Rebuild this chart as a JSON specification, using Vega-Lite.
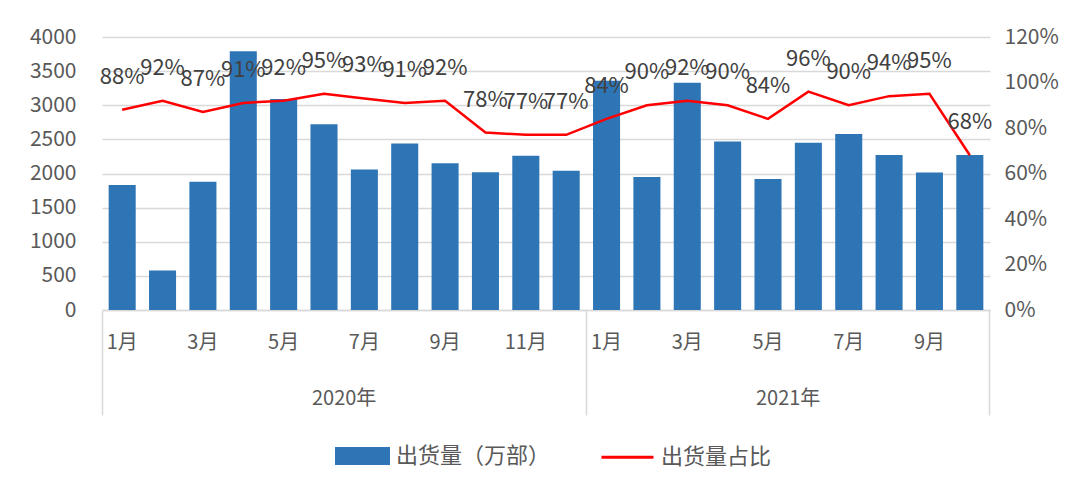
{
  "$schema": "https://vega.github.io/schema/vega-lite/v6.json",
  "width": 888,
  "height": 273,
  "autosize": {"type": "none"},
  "padding": {"left": 102, "top": 37, "right": 95, "bottom": 177},
  "background": "white",
  "config": {
    "font": "Noto Sans CJK SC",
    "view": {"stroke": null},
    "axis": {"labelColor": "#595959", "labelFont": "Noto Sans CJK SC"}
  },
  "data": {
    "values": [
      {"m": "2020-01", "v": 1830, "p": 0.88},
      {"m": "2020-02", "v": 580, "p": 0.92},
      {"m": "2020-03", "v": 1880, "p": 0.87},
      {"m": "2020-04", "v": 3790, "p": 0.91},
      {"m": "2020-05", "v": 3090, "p": 0.92},
      {"m": "2020-06", "v": 2720, "p": 0.95},
      {"m": "2020-07", "v": 2060, "p": 0.93},
      {"m": "2020-08", "v": 2440, "p": 0.91},
      {"m": "2020-09", "v": 2150, "p": 0.92},
      {"m": "2020-10", "v": 2020, "p": 0.78},
      {"m": "2020-11", "v": 2260, "p": 0.77},
      {"m": "2020-12", "v": 2040, "p": 0.77},
      {"m": "2021-01", "v": 3360, "p": 0.84},
      {"m": "2021-02", "v": 1950, "p": 0.90},
      {"m": "2021-03", "v": 3330, "p": 0.92},
      {"m": "2021-04", "v": 2470, "p": 0.90},
      {"m": "2021-05", "v": 1920, "p": 0.84},
      {"m": "2021-06", "v": 2450, "p": 0.96},
      {"m": "2021-07", "v": 2580, "p": 0.90},
      {"m": "2021-08", "v": 2270, "p": 0.94},
      {"m": "2021-09", "v": 2015, "p": 0.95},
      {"m": "2021-10", "v": 2270, "p": 0.68}
    ]
  },
  "layer": [
    {
      "mark": {"type": "bar"},
      "encoding": {
        "x": {
          "field": "m", "type": "ordinal",
          "scale": {"paddingInner": 0.33, "paddingOuter": 0.165},
          "axis": {
            "title": null, "orient": "bottom",
            "values": ["2020-01","2020-03","2020-05","2020-07","2020-09","2020-11","2021-01","2021-03","2021-05","2021-07","2021-09"],
            "labelExpr": "toNumber(slice(datum.value,5)) + '月'",
            "ticks": false, "domain": true, "domainColor": "#D9D9D9", "domainWidth": 1.5,
            "labelAngle": 0, "labelPadding": 22, "labelFontSize": 20, "grid": false
          }
        },
        "y": {
          "field": "v", "type": "quantitative",
          "scale": {"domain": [0, 4000], "nice": false},
          "axis": {
            "title": null, "orient": "left", "format": "d",
            "values": [0,500,1000,1500,2000,2500,3000,3500,4000],
            "grid": true, "gridColor": "#D9D9D9", "gridWidth": 1.5,
            "domain": false, "ticks": false, "labelPadding": 26, "labelFontSize": 21
          }
        },
        "color": {
          "datum": "出货量（万部）",
          "scale": {"domain": ["出货量（万部）", "出货量占比"], "range": ["#2E75B6", "#FF0000"]},
          "legend": {
            "title": null, "orient": "none", "legendX": 233, "legendY": 391,
            "direction": "horizontal", "labelFontSize": 22, "labelColor": "#595959",
            "symbolSize": 2704, "columnPadding": 44, "labelOffset": 6,
            "encode": {
              "symbols": {
                "update": {
                  "shape": {"signal": "datum.value === '出货量占比' ? 'M-1,0H1' : 'M-1,-0.29H1V0.29H-1Z'"},
                  "fill": {"signal": "datum.value === '出货量占比' ? 'transparent' : '#2E75B6'"},
                  "stroke": {"signal": "datum.value === '出货量占比' ? '#FF0000' : 'transparent'"},
                  "strokeWidth": {"value": 3},
                  "opacity": {"value": 1}
                }
              }
            }
          }
        }
      }
    },
    {
      "layer": [
        {
          "mark": {"type": "line", "strokeWidth": 2.5},
          "encoding": {
            "x": {
              "field": "m", "type": "ordinal",
              "axis": {
                "title": null, "orient": "bottom",
                "values": ["2020-01","2020-07","2021-01","2021-06"],
                "bandPosition": -0.246,
                "labelOffset": -20.2,
                "labelExpr": "datum.value == '2020-07' ? '2020年' : (datum.value == '2021-06' ? '2021年' : '')",
                "domain": false, "ticks": true, "tickSize": 105, "tickColor": "#D9D9D9", "tickWidth": 1.5,
                "tickOpacity": {"condition": {"test": "datum.value == '2020-01' || datum.value == '2021-01'", "value": 1}, "value": 0},
                "labelPadding": -27, "labelFontSize": 20, "labelAngle": 0, "grid": false
              }
            },
            "y": {
              "field": "p", "type": "quantitative",
              "scale": {"domain": [0, 1.2], "nice": false},
              "axis": {
                "title": null, "orient": "right",
                "values": [0, 0.2, 0.4, 0.6, 0.8, 1.0, 1.2],
                "format": ".0%", "grid": false, "domain": false, "ticks": false,
                "labelPadding": 14, "labelFontSize": 21
              }
            },
            "color": {"datum": "出货量占比"}
          }
        },
        {
          "mark": {"type": "text", "dy": -33, "fontSize": 22, "color": "#404040", "baseline": "middle"},
          "encoding": {
            "x": {
              "field": "m", "type": "ordinal",
              "axis": {
                "title": null, "orient": "bottom", "values": ["2021-10"], "bandPosition": 1.246,
                "labels": false, "domain": false, "ticks": true, "tickSize": 105,
                "tickColor": "#D9D9D9", "tickWidth": 1.5, "grid": false
              }
            },
            "y": {
              "field": "p", "type": "quantitative",
              "axis": {
                "title": null, "orient": "right",
                "values": [0, 0.2, 0.4, 0.6, 0.8, 1.0, 1.2],
                "format": ".0%", "grid": false, "domain": false, "ticks": false,
                "labelPadding": 14, "labelFontSize": 21
              }
            },
            "text": {"field": "p", "type": "quantitative", "format": ".0%"}
          }
        }
      ],
      "resolve": {"axis": {"x": "independent"}}
    }
  ],
  "resolve": {"scale": {"y": "independent"}, "axis": {"x": "independent"}}
}
